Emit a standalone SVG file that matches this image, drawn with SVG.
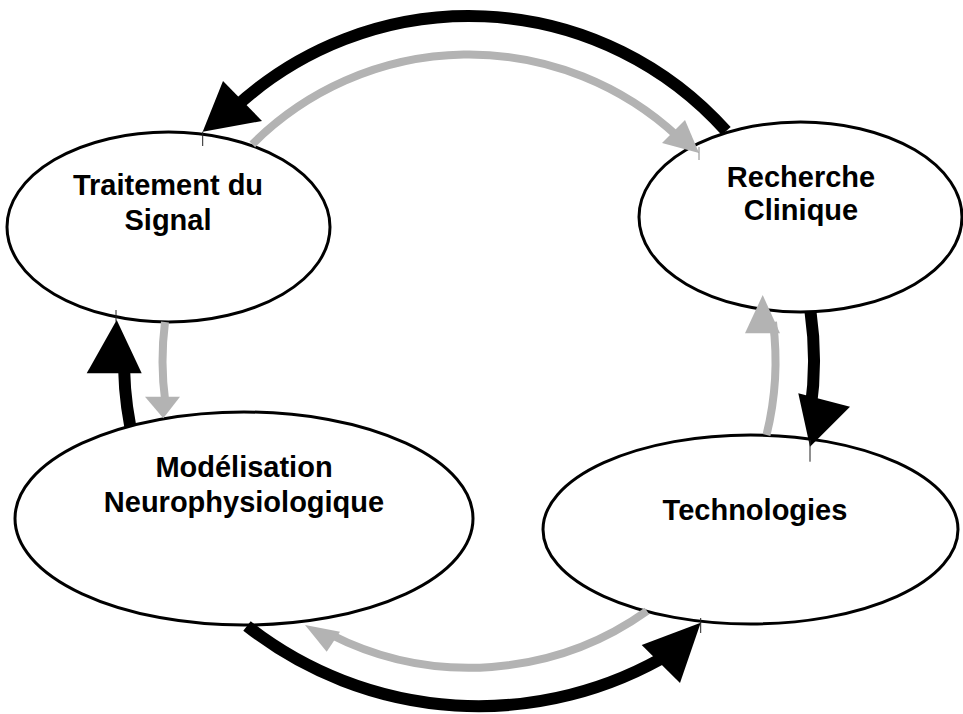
<svg xmlns="http://www.w3.org/2000/svg" width="963" height="714" viewBox="0 0 963 714">
<style>
.node{fill:#ffffff;stroke:#000000;stroke-width:3}
.lbl{font-family:"Liberation Sans",Arial,Helvetica,sans-serif;font-weight:bold;font-size:29px;fill:#000000;text-anchor:middle}
.sb{fill:none;stroke:#000000;stroke-width:12}
.sg{fill:none;stroke:#b3b3b3;stroke-width:8}
.hb{fill:#000000}
.hg{fill:#b3b3b3}
.tk{stroke:#222222;stroke-width:1}
.tkg{stroke:#888888;stroke-width:1}
</style>
<rect x="0" y="0" width="963" height="714" fill="#ffffff"/>
<g id="nodes">
  <g id="node-traitement">
    <ellipse class="node" cx="168.5" cy="227" rx="161.5" ry="95"/>
    <text class="lbl" x="168" y="195">Traitement du</text>
    <text class="lbl" x="168" y="230">Signal</text>
  </g>
  <g id="node-recherche">
    <ellipse class="node" cx="800.5" cy="217" rx="161.5" ry="95"/>
    <text class="lbl" x="801" y="187">Recherche</text>
    <text class="lbl" x="801" y="220">Clinique</text>
  </g>
  <g id="node-modelisation">
    <ellipse class="node" cx="244" cy="518.5" rx="229" ry="106.5"/>
    <text class="lbl" x="244" y="477">Modélisation</text>
    <text class="lbl" x="244" y="512">Neurophysiologique</text>
  </g>
  <g id="node-technologies">
    <ellipse class="node" cx="750.5" cy="529.5" rx="207.5" ry="94.5"/>
    <text class="lbl" x="755" y="520">Technologies</text>
  </g>
</g>
<g id="connectors">
  <!-- Recherche -> Traitement (black, top) -->
  <path class="sb" d="M726.2,131.1 A345,345 0 0 0 233.7,108.7"/>
  <polygon class="hb" points="202.7,131.7 223,81 262,121"/>
  <line class="tk" x1="202.7" y1="131.7" x2="202.7" y2="146"/>
  <!-- Traitement -> Recherche (grey, top) -->
  <path class="sg" d="M252.3,144.3 A306.5,306.5 0 0 1 678,136.8"/>
  <polygon class="hg" points="699,153 662,143 685,120"/>
  <line class="tkg" x1="699" y1="147" x2="699" y2="160"/>
  <!-- Recherche -> Technologies (black, right) -->
  <path class="sb" d="M810.5,311.7 A345,345 0 0 1 810.5,410"/>
  <polygon class="hb" points="810,446.7 798.3,393.3 850,406.7"/>
  <line class="tk" x1="810" y1="440" x2="810" y2="461.7"/>
  <!-- Technologies -> Recherche (grey, right) -->
  <path class="sg" d="M766.5,435 A306.5,306.5 0 0 0 773,322"/>
  <polygon class="hg" points="762.7,295 745,333.3 780,333.3"/>
  <!-- Modelisation -> Technologies (black, bottom) -->
  <path class="sb" d="M247,626 A374.6,374.6 0 0 0 672,652.4"/>
  <polygon class="hb" points="700.7,622.7 641.7,645 680,683"/>
  <line class="tk" x1="700.7" y1="618" x2="700.7" y2="633"/>
  <!-- Technologies -> Modelisation (grey, bottom) -->
  <path class="sg" d="M647,611 A306.5,306.5 0 0 1 330,634.2"/>
  <polygon class="hg" points="305,625 340,631.7 326.7,651.7"/>
  <!-- Modelisation -> Traitement (black, left) -->
  <path class="sb" d="M130.2,426 A345,345 0 0 1 124.2,350"/>
  <polygon class="hb" points="116.7,320 86.7,373.3 141.7,373.3"/>
  <line class="tk" x1="116" y1="310" x2="116" y2="321.7"/>
  <!-- Traitement -> Modelisation (grey, left) -->
  <path class="sg" d="M165,322 A306.5,306.5 0 0 0 165.3,402"/>
  <polygon class="hg" points="163.3,418.3 145,396.7 180,396.7"/>
</g>
</svg>
